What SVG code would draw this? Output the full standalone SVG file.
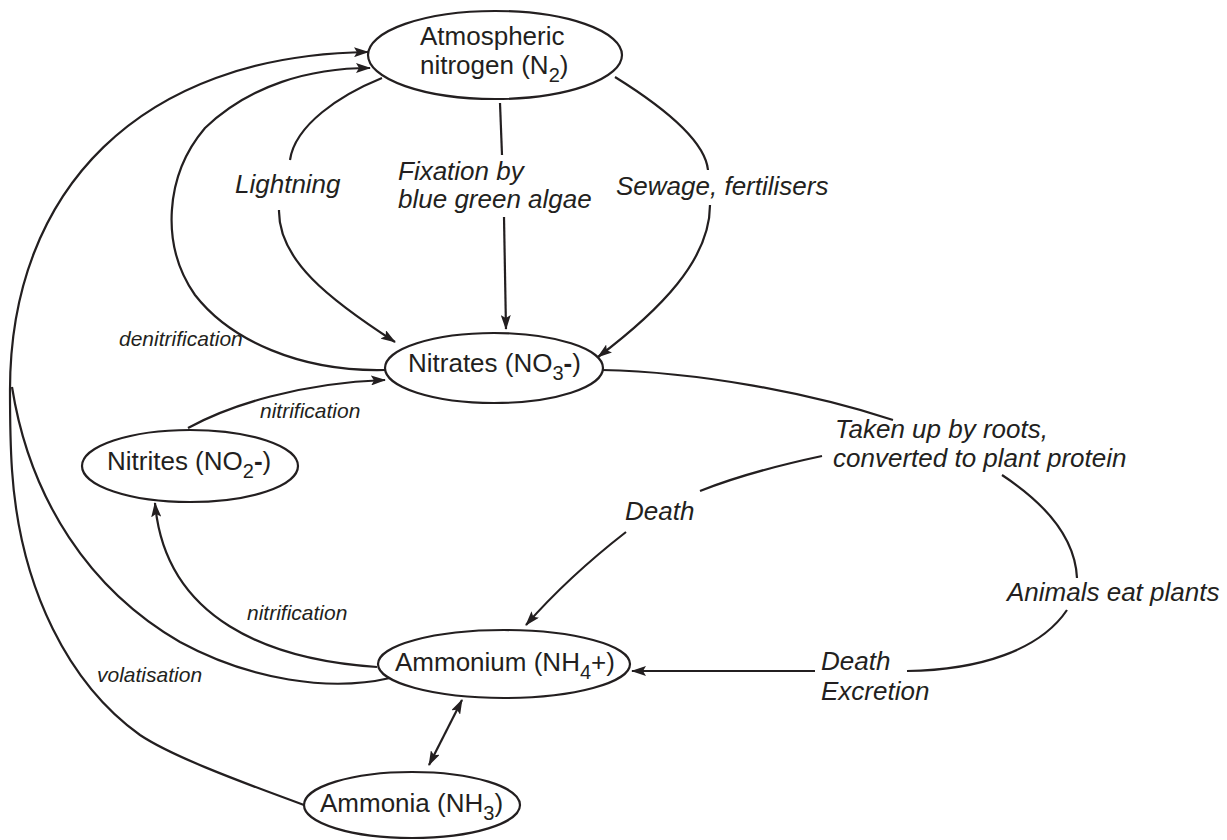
<svg xmlns="http://www.w3.org/2000/svg" width="1227" height="840" viewBox="0 0 1227 840">
<style>
.node{fill:#fff;stroke:#231f20;stroke-width:2.2}
.nt{font-family:"Liberation Sans",Arial,sans-serif;font-size:26px;fill:#231f20}
.lb{font-family:"Liberation Sans",Arial,sans-serif;font-size:26px;font-style:italic;fill:#231f20}
.sm{font-family:"Liberation Sans",Arial,sans-serif;font-size:21px;font-style:italic;fill:#231f20}
.sub{font-size:20px}
.c{fill:none;stroke:#231f20;stroke-width:2.2}
.a{marker-end:url(#ah)}
</style>
<defs>
<marker id="ah" markerUnits="userSpaceOnUse" markerWidth="15" markerHeight="10" refX="14" refY="5" orient="auto-start-reverse">
<path d="M0,0 L15,5 L0,10 L3,5 z" fill="#231f20"/>
</marker>
</defs>
<rect width="1227" height="840" fill="#fff"/>
<g id="connectors">
<path class="c a" d="M304,805 C230,778 170,755 140,735 C70,685 20,590 12,470 C10,440 10,410 10,390 C10,190 140,55 368,52"/>
<path class="c" d="M390,678 C330,692 250,680 180,642 C90,590 30,500 12,387"/>
<path class="c a" d="M385,370 C300,372 230,340 195,295 C160,245 165,175 205,128 C250,85 310,68 370,68"/>
<path class="c" d="M382,78 C340,95 295,125 290,160"/>
<path class="c a" d="M279,210 C278,260 330,300 395,342"/>
<path class="c" d="M500,103 L502,155"/>
<path class="c a" d="M504,217 L506,329"/>
<path class="c" d="M615,77 C660,105 705,140 708,170"/>
<path class="c a" d="M710,205 C710,260 660,310 598,357"/>
<path class="c" d="M602,370 C700,372 810,393 893,420"/>
<path class="c" d="M822,456 C780,465 740,475 700,491"/>
<path class="c a" d="M626,532 C590,560 555,592 526,625"/>
<path class="c" d="M1002,475 C1040,500 1075,535 1077,578"/>
<path class="c" d="M1067,610 C1040,650 980,670 907,671"/>
<path class="c a" d="M815,671 L632,671"/>
<path class="c a" d="M188,428 C230,405 300,383 385,380"/>
<path class="c a" d="M377,667 C270,660 165,620 155,503"/>
<path class="c a" d="M462,700 L429,765" marker-start="url(#ah)"/>
</g>
<g id="labels">
<text class="lb" x="235" y="193">Lightning</text>
<text class="lb" x="398" y="180">Fixation by</text>
<text class="lb" x="398" y="208">blue green algae</text>
<text class="lb" x="616" y="195">Sewage, fertilisers</text>
<text class="lb" x="835" y="438">Taken up by roots,</text>
<text class="lb" x="833" y="467">converted to plant protein</text>
<text class="lb" x="625" y="520">Death</text>
<text class="lb" x="1007" y="601">Animals eat plants</text>
<text class="lb" x="821" y="670">Death</text>
<text class="lb" x="821" y="700">Excretion</text>
<text class="sm" x="119" y="346">denitrification</text>
<text class="sm" x="260" y="418">nitrification</text>
<text class="sm" x="247" y="620">nitrification</text>
<text class="sm" x="97" y="682">volatisation</text>
</g>
<g id="atmospheric-nitrogen">
<ellipse class="node" cx="495" cy="55" rx="127" ry="44"/>
<text class="nt" x="420" y="45">Atmospheric</text>
<text class="nt" x="420" y="74">nitrogen (N<tspan class="sub" dy="8">2</tspan><tspan dy="-8">)</tspan></text>
</g>
<g id="nitrates">
<ellipse class="node" cx="494" cy="368" rx="109" ry="35"/>
<text class="nt" x="408" y="372">Nitrates (NO<tspan class="sub" dy="8">3</tspan><tspan dy="-8" font-weight="bold">-</tspan>)</text>
</g>
<g id="nitrites">
<ellipse class="node" cx="190" cy="466" rx="108" ry="36"/>
<text class="nt" x="107" y="470">Nitrites (NO<tspan class="sub" dy="8">2</tspan><tspan dy="-8" font-weight="bold">-</tspan>)</text>
</g>
<g id="ammonium">
<ellipse class="node" cx="504" cy="664" rx="126" ry="34"/>
<text class="nt" x="395" y="671">Ammonium (NH<tspan class="sub" dy="8">4</tspan><tspan dy="-8">+)</tspan></text>
</g>
<g id="ammonia">
<ellipse class="node" cx="412" cy="805" rx="108" ry="33"/>
<text class="nt" x="320" y="812">Ammonia (NH<tspan class="sub" dy="8">3</tspan><tspan dy="-8">)</tspan></text>
</g>
</svg>
